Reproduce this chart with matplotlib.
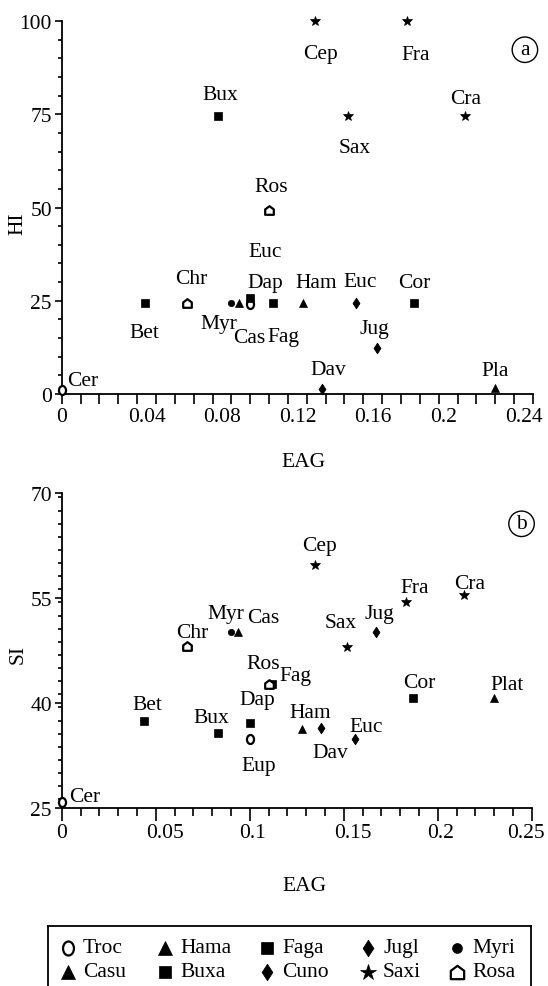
import matplotlib
matplotlib.use("Agg")
import matplotlib.pyplot as plt
import numpy as np
from matplotlib.path import Path
from matplotlib.ticker import MultipleLocator, FixedLocator, NullFormatter

plt.rcParams['font.family'] = ['Liberation Serif', 'DejaVu Serif']

# ---- data ----
names = ['Cer', 'Eup', 'Bet', 'Cor', 'Fag', 'Bux', 'Dap', 'Ham', 'Pla', 'Cas',
         'Myr', 'Jug', 'Euc', 'Dav', 'Cep', 'Fra', 'Sax', 'Cra', 'Chr', 'Ros']
labels_a = ['Cer', 'Euc', 'Bet', 'Cor', 'Fag', 'Bux', 'Dap', 'Ham', 'Pla', 'Cas',
            'Myr', 'Jug', 'Euc', 'Dav', 'Cep', 'Fra', 'Sax', 'Cra', 'Chr', 'Ros']
labels_b = ['Cer', 'Eup', 'Bet', 'Cor', 'Fag', 'Bux', 'Dap', 'Ham', 'Plat', 'Cas',
            'Myr', 'Jug', 'Euc', 'Dav', 'Cep', 'Fra', 'Sax', 'Cra', 'Chr', 'Ros']
family = ['Troc', 'Troc', 'Faga', 'Faga', 'Faga', 'Buxa', 'Buxa', 'Hama', 'Hama', 'Casu',
          'Myri', 'Jugl', 'Cuno', 'Cuno', 'Saxi', 'Saxi', 'Saxi', 'Saxi', 'Rosa', 'Rosa']
eag = [0.0, 0.100, 0.044, 0.187, 0.112, 0.083, 0.100, 0.128, 0.230, 0.094,
       0.090, 0.167, 0.156, 0.138, 0.1345, 0.183, 0.152, 0.214, 0.0664, 0.110]
hi = [1.0, 24.2, 24.4, 24.4, 24.4, 74.5, 25.7, 24.4, 1.6, 24.4,
      24.4, 12.2, 24.4, 1.4, 100, 100, 74.5, 74.5, 24.4, 49.3]
si = [25.9, 34.9, 37.4, 40.7, 42.65, 35.7, 37.2, 36.3, 40.7, 50.2,
      50.2, 50.1, 34.8, 36.5, 59.7, 54.5, 48.0, 55.5, 48.1, 42.65]

xticks_a = [0, 0.04, 0.08, 0.12, 0.16, 0.2, 0.24]
xticklabels_a = ['0', '0.04', '0.08', '0.12', '0.16', '0.2', '0.24']
xticks_b = [0, 0.05, 0.1, 0.15, 0.2, 0.25]
xticklabels_b = ['0', '0.05', '0.1', '0.15', '0.2', '0.25']
yticks_a = [0, 25, 50, 75, 100]
yticks_b = [25, 40, 55, 70]

legend_rows = [['Troc', 'Hama', 'Faga', 'Jugl', 'Myri'],
               ['Casu', 'Buxa', 'Cuno', 'Saxi', 'Rosa']]

# label offsets (pixels) relative to the point
off_a = [(5, 10), (15, 52), (0, -30), (0, 20), (11, -34), (2, 22), (15, 16), (13, 20),
         (0, 18), (10, -35), (-12, -21), (-2, 20), (4, 21), (6, 19), (5, -32), (9, -33),
         (6, -31), (0, 18), (4, 24), (2, 24)]
off_b = [(7, 5), (9, -27), (3, 17), (6, 16), (23, 9), (-6, 16), (8, 23), (8, 16),
         (13, 14), (25, 14), (-5, 18), (4, 19), (11, 13), (9, -25), (5, 20), (9, 14),
         (-7, 24), (6, 11), (6, 14), (-5, 21)]
# horizontal shift of each x tick label (pixels)
xlab_dx_a = [0, -9, -9, -9, -9, -9, -9]
xlab_dx_b = [0, -10, -11, -10, -11, -25]

# ---- marker styles ----
ell = Path(Path.unit_circle().vertices * np.array([0.78, 1.0]), Path.unit_circle().codes)
house = Path([(-1, -1), (1, -1), (1, 0.25), (0, 1), (-1, 0.25), (-1, -1)],
             [Path.MOVETO, Path.LINETO, Path.LINETO, Path.LINETO, Path.LINETO, Path.CLOSEPOLY])
diam = Path([(0, 1), (0.65, 0), (0, -1), (-0.65, 0), (0, 1)],
            [Path.MOVETO, Path.LINETO, Path.LINETO, Path.LINETO, Path.CLOSEPOLY])
style = {
    'Troc': dict(marker=ell, ms=6.5, mfc='white', mec='black', mew=1.6),
    'Hama': dict(marker='^', ms=6.2, mfc='black', mec='black', mew=0.5),
    'Casu': dict(marker='^', ms=6.2, mfc='black', mec='black', mew=0.5),
    'Faga': dict(marker='s', ms=5.2, mfc='black', mec='black', mew=0.5),
    'Buxa': dict(marker='s', ms=5.2, mfc='black', mec='black', mew=0.5),
    'Jugl': dict(marker=diam, ms=7.6, mfc='black', mec='black', mew=0.6),
    'Cuno': dict(marker=diam, ms=7.6, mfc='black', mec='black', mew=0.6),
    'Myri': dict(marker='o', ms=4.6, mfc='black', mec='black', mew=0.5),
    'Saxi': dict(marker='*', ms=7.5, mfc='black', mec='black', mew=0.5),
    'Rosa': dict(marker=house, ms=6.2, mfc='white', mec='black', mew=1.6),
}

W, H = 548, 987
fig = plt.figure(figsize=(W / 100, H / 100), dpi=100)
FS = 15.5


def px_axes(x0, x1, ytop, ybot):
    return fig.add_axes([x0 / W, (H - ybot) / H, (x1 - x0) / W, (ybot - ytop) / H])


def style_axes(ax, xmaj, xmin):
    for s in ['top', 'right']:
        ax.spines[s].set_visible(False)
    ax.spines['left'].set_linewidth(1.3)
    ax.spines['bottom'].set_linewidth(1.3)
    ax.tick_params(axis='y', which='major', direction='out', length=5, width=1.2,
                   labelsize=FS, pad=2)
    ax.tick_params(axis='y', which='minor', direction='out', length=3, width=1.2)
    ax.tick_params(axis='x', which='major', direction='out', length=xmaj, width=1.2)
    ax.tick_params(axis='x', which='minor', direction='out', length=xmin, width=1.2)


def xlabels(ax, ticks, labels, shifts, dy):
    # tick labels sit with their decimal point on the tick
    ax.xaxis.set_major_formatter(NullFormatter())
    for t, lab, dx in zip(ticks, labels, shifts):
        ha = 'left' if '.' in lab else 'center'
        ax.annotate(lab, (t, 0), xycoords=('data', 'axes fraction'), xytext=(dx, dy),
                    textcoords='offset pixels', ha=ha, va='top', fontsize=FS)


def draw(ax, yvals, labels, offs):
    for i in range(len(names)):
        ax.plot(eag[i], yvals[i], linestyle='none', clip_on=False, zorder=3, **style[family[i]])
        dx, dy = offs[i]
        ha = 'left' if names[i] == 'Cer' else 'center'
        ax.annotate(labels[i], (eag[i], yvals[i]), xytext=(dx, dy), textcoords='offset pixels',
                    ha=ha, va='center', fontsize=FS)


# panel a
ax1 = px_axes(61.7, 533, 22, 395)
style_axes(ax1, 7, 7)
draw(ax1, hi, labels_a, off_a)
ax1.set_xlim(0, 0.25)
ax1.set_ylim(0, 100)
ax1.xaxis.set_major_locator(FixedLocator(xticks_a))
ax1.xaxis.set_minor_locator(MultipleLocator(0.01))
xlabels(ax1, xticks_a, xticklabels_a, xlab_dx_a, -13)
ax1.yaxis.set_major_locator(FixedLocator(yticks_a))
ax1.yaxis.set_minor_locator(MultipleLocator(5))
ax1.set_xlabel('EAG', fontsize=FS)
ax1.set_ylabel('HI', fontsize=FS)
ax1.xaxis.set_label_coords(0.512, -0.155)
ax1.yaxis.set_label_coords(-0.072, 0.46)
ax1.text(0.2457, 92.3, 'a', fontsize=FS, ha='center', va='center',
         bbox=dict(boxstyle='circle,pad=0.15', fc='white', ec='black', lw=1))

# panel b
ax2 = px_axes(61.7, 531.7, 494, 809)
style_axes(ax2, 9, 5.5)
draw(ax2, si, labels_b, off_b)
ax2.set_xlim(0, 0.25)
ax2.set_ylim(25, 70)
ax2.xaxis.set_major_locator(FixedLocator(xticks_b))
ax2.xaxis.set_minor_locator(MultipleLocator(0.01))
xlabels(ax2, xticks_b, xticklabels_b, xlab_dx_b, -15)
ax2.yaxis.set_major_locator(FixedLocator(yticks_b))
ax2.yaxis.set_minor_locator(MultipleLocator(15 / 8))
ax2.set_xlabel('EAG', fontsize=FS)
ax2.set_ylabel('SI', fontsize=FS)
ax2.xaxis.set_label_coords(0.516, -0.215)
ax2.yaxis.set_label_coords(-0.072, 0.49)
ax2.text(0.2446, 65.6, 'b', fontsize=FS, ha='center', va='center',
         bbox=dict(boxstyle='circle,pad=0.15', fc='white', ec='black', lw=1))

# legend box (bottom edge runs off the figure)
axl = px_axes(48, 531, 927, 1000)
axl.set_xlim(48, 531)
axl.set_ylim(1000, 927)
axl.set_xticks([])
axl.set_yticks([])
for s in axl.spines.values():
    s.set_linewidth(1.3)
col_x = [68, 165, 267, 368, 457]
row_y = [949, 973]
for r, row in enumerate(legend_rows):
    for c, fam in enumerate(row):
        st = dict(style[fam])
        st['ms'] = st['ms'] * 1.55
        axl.plot(col_x[c], row_y[r], linestyle='none', **st)
        axl.text(col_x[c] + 15, row_y[r], fam, fontsize=FS, ha='left', va='center')

fig.savefig('out.png', dpi=100)
